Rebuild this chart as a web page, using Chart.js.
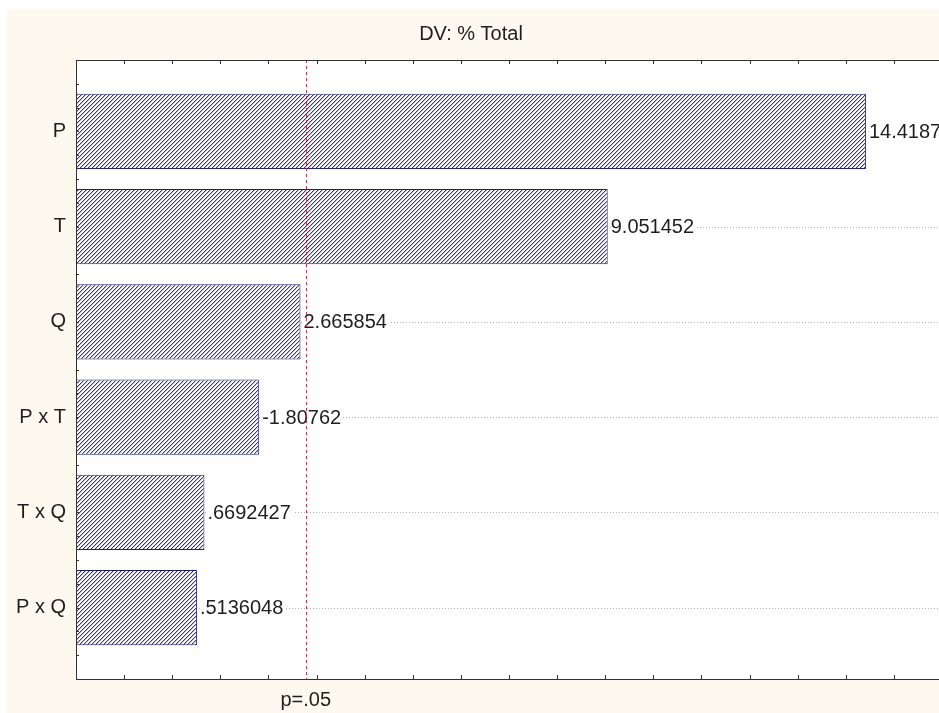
<!DOCTYPE html>
<html>
<head>
<meta charset="utf-8">
<script src="https://cdn.jsdelivr.net/npm/chart.js@4/dist/chart.umd.min.js"></script>
<style>
  html, body { margin: 0; padding: 0; overflow: hidden; background: #ffffff; }
  #wrap { width: 964px; height: 713px; }
</style>
</head>
<body>
<div id="wrap"><canvas id="c" width="964" height="713"></canvas></div>
<script>
// Pareto chart of standardized effects
const factors = ['P', 'T', 'Q', 'P x T', 'T x Q', 'P x Q'];
const effects = [14.4187, 9.051452, 2.665854, -1.80762, 0.6692427, 0.5136048];
const effectLabels = ['14.4187', '9.051452', '2.665854', '-1.80762', '.6692427', '.5136048'];
const pCritical = 2.776;
const pLabel = 'p=.05';
const chartTitle = 'DV: % Total';
const axisMin = -2;
const axisMax = 16;

const FONT = { family: '"Liberation Sans", Arial, sans-serif', size: 20, weight: 'normal' };
const TEXT = '#1e1e1e';

// crisp diagonal hatch fill for the bars
function makeHatch() {
  const s = 4;
  const t = document.createElement('canvas');
  t.width = s; t.height = s;
  const g = t.getContext('2d');
  g.fillStyle = '#ffffff';
  g.fillRect(0, 0, s, s);
  for (let i = 0; i < s; i++) {
    g.fillStyle = '#34348e';
    g.fillRect(i, s - 1 - i, 1, 1);
    g.fillStyle = '#b9b9dc';
    g.fillRect((i + 1) % s, s - 1 - i, 1, 1);
  }
  return document.getElementById('c').getContext('2d').createPattern(t, 'repeat');
}

const framePlugin = {
  id: 'frame',
  beforeDraw(chart) {
    const { ctx, chartArea: a } = chart;
    ctx.save();
    ctx.fillStyle = '#ffffff';
    ctx.fillRect(0, 0, chart.width, chart.height);
    ctx.fillStyle = '#fdf9ef';
    ctx.fillRect(7, 9, chart.width - 7, chart.height - 9);
    ctx.fillStyle = '#ffffff';
    ctx.fillRect(a.left, a.top, a.right - a.left, a.bottom - a.top);
    ctx.restore();
  },
  beforeDatasetsDraw(chart) {
    // dotted reference lines through each factor
    const { ctx, chartArea: a, scales: { y } } = chart;
    ctx.save();
    ctx.strokeStyle = '#b0b0b0';
    ctx.lineWidth = 1;
    ctx.setLineDash([1, 2]);
    factors.forEach((f, i) => {
      const py = Math.round(y.getPixelForValue(i)) + 0.5;
      ctx.beginPath();
      ctx.moveTo(a.left, py);
      ctx.lineTo(a.right, py);
      ctx.stroke();
    });
    ctx.restore();
  },
  afterDatasetsDraw(chart) {
    const { ctx, chartArea: a, scales: { x, y } } = chart;
    ctx.save();
    // value labels at the bar ends
    ctx.font = `${FONT.size}px ${FONT.family}`;
    ctx.textBaseline = 'middle';
    ctx.textAlign = 'left';
    factors.forEach((f, i) => {
      const tx = x.getPixelForValue(Math.abs(effects[i])) + 3;
      const ty = y.getPixelForValue(i);
      const w = ctx.measureText(effectLabels[i]).width;
      ctx.fillStyle = '#ffffff';
      ctx.fillRect(tx, ty - 9, w + 2, 18);
      ctx.fillStyle = TEXT;
      ctx.fillText(effectLabels[i], tx, ty + 1);
    });
    // significance threshold
    const px = Math.round(x.getPixelForValue(pCritical)) + 0.5;
    ctx.strokeStyle = '#b2414f';
    ctx.lineWidth = 1;
    ctx.setLineDash([3, 3]);
    ctx.beginPath();
    ctx.moveTo(px, a.top);
    ctx.lineTo(px, a.bottom);
    ctx.stroke();
    ctx.setLineDash([]);
    // plot frame
    ctx.strokeStyle = '#333333';
    ctx.strokeRect(Math.round(a.left) + 0.5, Math.round(a.top) + 0.5,
      Math.round(a.right - a.left), Math.round(a.bottom - a.top));
    // inward tick marks
    ctx.beginPath();
    for (let v = axisMin + 1; v < axisMax; v++) {
      const tx = Math.round(x.getPixelForValue(v)) + 0.5;
      ctx.moveTo(tx, a.top); ctx.lineTo(tx, a.top + 4);
      ctx.moveTo(tx, a.bottom); ctx.lineTo(tx, a.bottom - 4);
    }
    for (let v = y.min + 0.25; v < y.max; v += 0.25) {
      const ty = Math.round(y.getPixelForValue(v)) + 0.5;
      ctx.moveTo(a.left, ty); ctx.lineTo(a.left + 3, ty);
      ctx.moveTo(a.right, ty); ctx.lineTo(a.right - 3, ty);
    }
    ctx.stroke();
    ctx.restore();
  }
};

new Chart(document.getElementById('c'), {
  type: 'bar',
  data: {
    datasets: [{
      data: factors.map((f, i) => ({ y: i, x: [axisMin, Math.abs(effects[i])] })),
      backgroundColor: makeHatch(),
      borderColor: '#1f1f86',
      borderWidth: 1,
      borderSkipped: false,
      categoryPercentage: 1,
      barPercentage: 0.79
    }]
  },
  options: {
    indexAxis: 'y',
    responsive: false,
    animation: false,
    devicePixelRatio: 1,
    layout: { padding: { left: 0, right: 22, top: 0, bottom: 0 } },
    plugins: {
      legend: { display: false },
      tooltip: { enabled: false },
      title: {
        display: true,
        text: chartTitle,
        color: TEXT,
        font: FONT,
        padding: { top: 22, bottom: 14 }
      }
    },
    scales: {
      x: {
        type: 'linear',
        position: 'bottom',
        min: axisMin,
        max: axisMax,
        offset: false,
        grid: { display: false, drawTicks: false },
        border: { display: false },
        afterBuildTicks: s => { s.ticks = [{ value: pCritical }]; },
        afterFit: s => { s.height = 34; },
        ticks: {
          callback: () => pLabel,
          autoSkip: false,
          maxRotation: 0,
          padding: 9,
          color: TEXT,
          font: FONT
        }
      },
      y: {
        type: 'linear',
        min: -0.75,
        max: 5.75,
        reverse: true,
        offset: false,
        grid: { display: false, drawTicks: false },
        border: { display: false },
        afterBuildTicks: s => { s.ticks = factors.map((f, i) => ({ value: i })); },
        afterFit: s => { s.width = 76; },
        ticks: {
          callback: v => factors[v],
          autoSkip: false,
          padding: 10,
          color: TEXT,
          font: FONT
        }
      }
    }
  },
  plugins: [framePlugin]
});
</script>
</body>
</html>
